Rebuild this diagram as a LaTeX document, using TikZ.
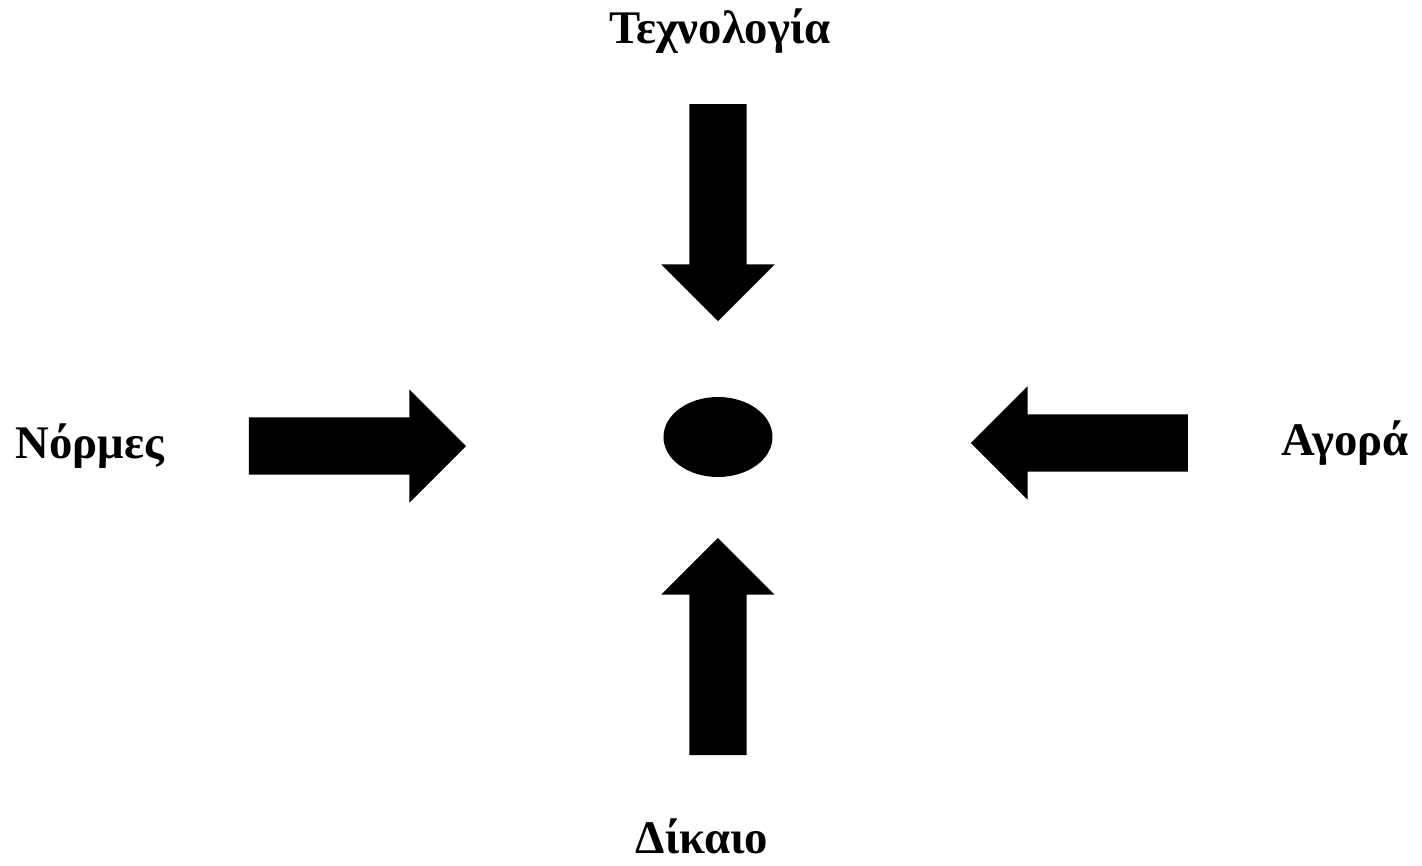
\documentclass[tikz,border=0pt]{standalone}
\usepackage{fontspec}
\setmainfont{Liberation Serif}
\usetikzlibrary{shapes.geometric, shapes.arrows}
\tikzset{
  blockarrow/.style={
    single arrow,
    fill=black,
    draw=none,
    minimum height=2.17cm,
    minimum width=1.12cm,
    inner xsep=0pt,
    inner ysep=0.28cm,
    single arrow head extend=0.28cm,
    single arrow tip angle=90,
    single arrow head indent=0pt
  },
  centerdot/.style={
    ellipse,
    fill=black,
    draw=none,
    inner sep=0pt,
    minimum width=1.09cm,
    minimum height=0.80cm
  },
  forcelabel/.style={
    anchor=base,
    inner sep=0pt,
    font=\fontsize{13.3}{16}\selectfont\bfseries
  }
}
\begin{document}
\begin{tikzpicture}

  \useasboundingbox (-7.18,4.37) rectangle (7.04,-4.28);

  % ==================== CENTRE ====================
  \node (dot) [centerdot] at (0,0) {};

  % ==================== ARROWS ====================
  \node (atop) [blockarrow, rotate=-90, anchor=tip] at (0,1.15) {};
  \node (abottom) [blockarrow, rotate=90, anchor=tip] at (0,-1.00) {};
  \node (aleft) [blockarrow, anchor=tip] at (-2.51,-0.09) {};
  \node (aright) [blockarrow, rotate=180, anchor=tip] at (2.52,-0.06) {};

  % ==================== LABELS ====================
  \node (ltech) [forcelabel] at (0.02,3.94) {Τεχνολογία};
  \node (lnorms) [forcelabel] at (-6.28,-0.21) {Νόρμες};
  \node (lmarket) [forcelabel] at (6.27,-0.18) {Αγορά};
  \node (llaw) [forcelabel] at (-0.16,-4.16) {Δίκαιο};

\end{tikzpicture}
\end{document}
